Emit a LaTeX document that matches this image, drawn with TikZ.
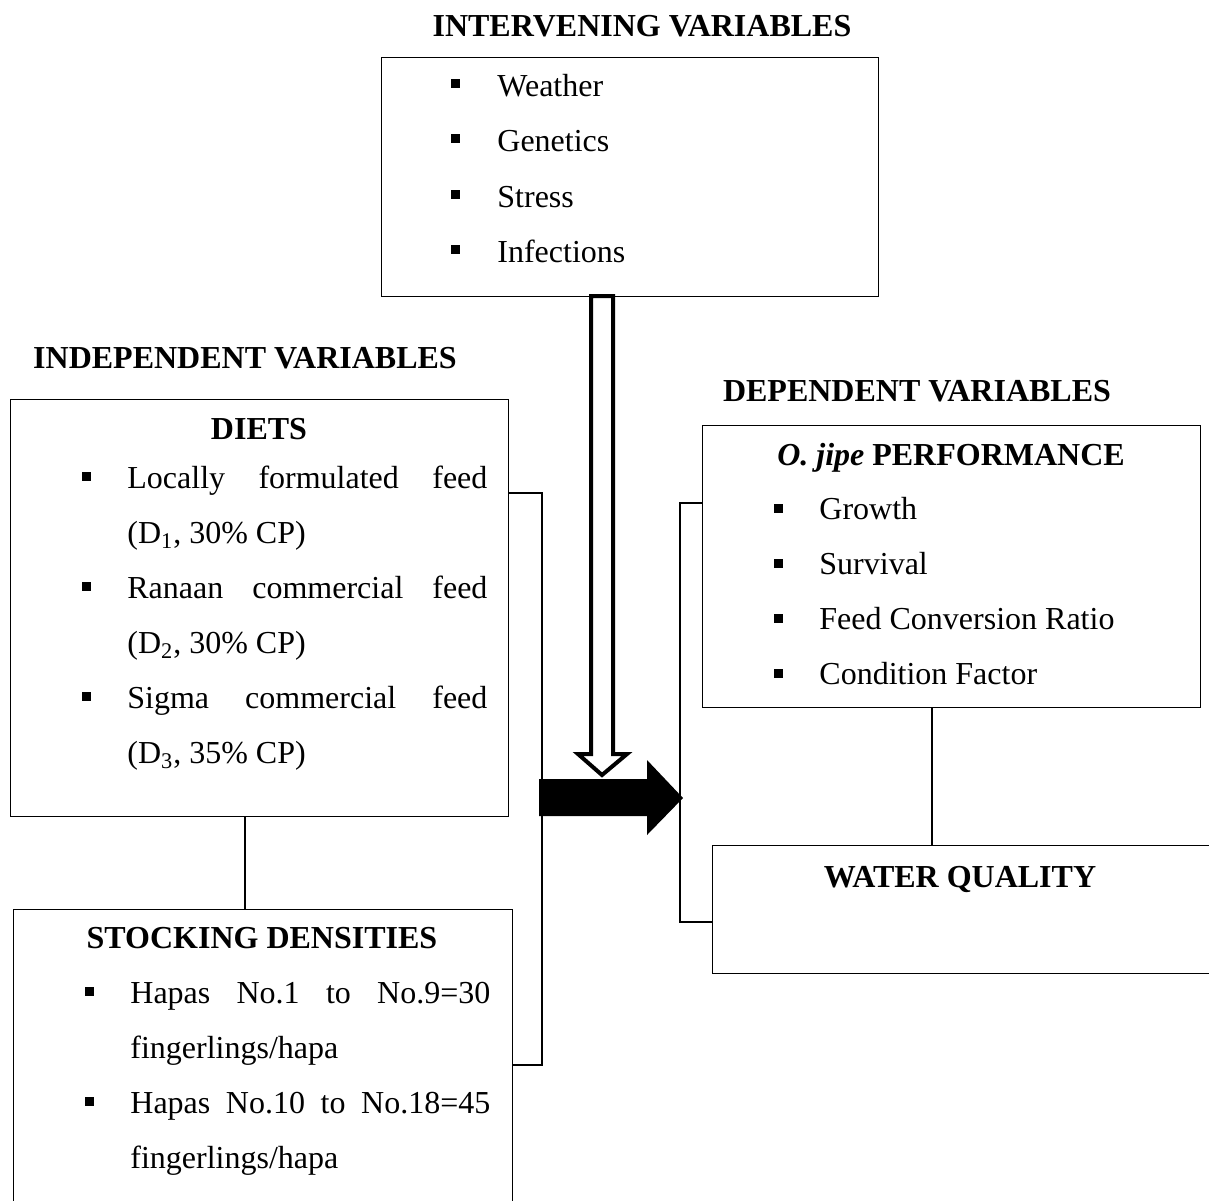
\documentclass[tikz,border=0pt]{standalone}
\usepackage{fontspec}
\setmainfont{Liberation Serif}
\begin{document}
\begin{tikzpicture}[x=0.5pt,y=-0.5pt,
  box/.style={draw, line width=0.6pt, inner sep=0pt, anchor=north west},
  conn/.style={line width=0.9pt},
  ttl/.style={font=\fontsize{16pt}{19pt}\selectfont\bfseries, anchor=base, inner sep=0pt},
  txt/.style={font=\fontsize{16pt}{19pt}\selectfont, anchor=base west, inner sep=0pt},
  bul/.style={fill, minimum size=4.5pt, inner sep=0pt, anchor=south}]
\useasboundingbox (0,0) rectangle (1209,1200);
\clip (0,0) rectangle (1209,1200);

% boxes
\node[box, minimum width=248.5pt, minimum height=119.5pt] (inter) at (381,57) {};
\node[box, minimum width=249pt, minimum height=208.5pt] (diets) at (10,399) {};
\node[box, minimum width=249.5pt, minimum height=153pt] (stock) at (13,909) {};
\node[box, minimum width=249pt, minimum height=141pt] (dep) at (702,425) {};
\node[box, minimum width=251.5pt, minimum height=64pt] (water) at (712,845) {};

% titles
\node[ttl] (tinter) at (642,36) {INTERVENING VARIABLES};
\node[ttl] (tindep) at (245,368) {INDEPENDENT VARIABLES};
\node[ttl] (tdep) at (917,401) {DEPENDENT VARIABLES};
\node[ttl] (tdiets) at (259,439) {DIETS};
\node[ttl] (tperf) at (951,465) {\textit{O. jipe} PERFORMANCE};
\node[ttl] (twater) at (960,887) {WATER QUALITY};
\node[ttl] (tstock) at (262,948) {STOCKING DENSITIES};

% intervening items
\node[bul] at (455,88) {}; \node[txt] (i1) at (497,96) {Weather};
\node[bul] at (455,143) {}; \node[txt] (i2) at (497,151) {Genetics};
\node[bul] at (455,199) {}; \node[txt] (i3) at (497,207) {Stress};
\node[bul] at (455,254) {}; \node[txt] (i4) at (497,262) {Infections};

% diets items
\node[bul] at (86,481) {}; \node[txt] (d1) at (127,488) {\makebox[180pt][s]{Locally formulated feed}};
\node[txt] (d1b) at (127,543) {(D\textsubscript{1}, 30\% CP)};
\node[bul] at (86,591) {}; \node[txt] (d2) at (127,598) {\makebox[180pt][s]{Ranaan commercial feed}};
\node[txt] (d2b) at (127,653) {(D\textsubscript{2}, 30\% CP)};
\node[bul] at (86,701) {}; \node[txt] (d3) at (127,708) {\makebox[180pt][s]{Sigma commercial feed}};
\node[txt] (d3b) at (127,763) {(D\textsubscript{3}, 35\% CP)};

% stocking items
\node[bul] at (89.5,996) {}; \node[txt] (s1) at (130,1003) {\makebox[180pt][s]{Hapas No.1 to No.9=30}};
\node[txt] (s1b) at (130,1058) {fingerlings/hapa};
\node[bul] at (89.5,1106) {}; \node[txt] (s2) at (130,1113) {\makebox[180pt][s]{Hapas No.10 to No.18=45}};
\node[txt] (s2b) at (130,1168) {fingerlings/hapa};

% dependent items
\node[bul] at (778,513) {}; \node[txt] (p1) at (819,519) {Growth};
\node[bul] at (778,568) {}; \node[txt] (p2) at (819,574) {Survival};
\node[bul] at (778,623) {}; \node[txt] (p3) at (819,629) {Feed Conversion Ratio};
\node[bul] at (778,678) {}; \node[txt] (p4) at (819,684) {Condition Factor};

% connectors
\coordinate (cx1) at (245,0);
\coordinate (cx2) at (932,0);
\draw[conn] (diets.south -| cx1) -- (stock.north -| cx1);
\draw[conn] (dep.south -| cx2) -- (water.north -| cx2);

\coordinate (lb) at (542,0);
\coordinate (rb) at (680,0);
\draw[conn] (diets.east |- 0,493) -- (lb |- 0,493) -- (lb |- 0,1065) -- (stock.east |- 0,1065);
\draw[conn] (dep.west |- 0,503) -- (rb |- 0,503) -- (rb |- 0,922) -- (water.west |- 0,922);

% black arrow
\fill (539,779) -- (647,779) -- (647,760) -- (683,798) -- (647,835) -- (647,816) -- (539,816) -- cycle;

% hollow arrow
\draw[line width=2pt, fill=white, line join=miter]
  (591,296) -- (613,296) -- (613,754) -- (627,754) -- (602,775) -- (578,754) -- (591,754) -- cycle;
\end{tikzpicture}
\end{document}
